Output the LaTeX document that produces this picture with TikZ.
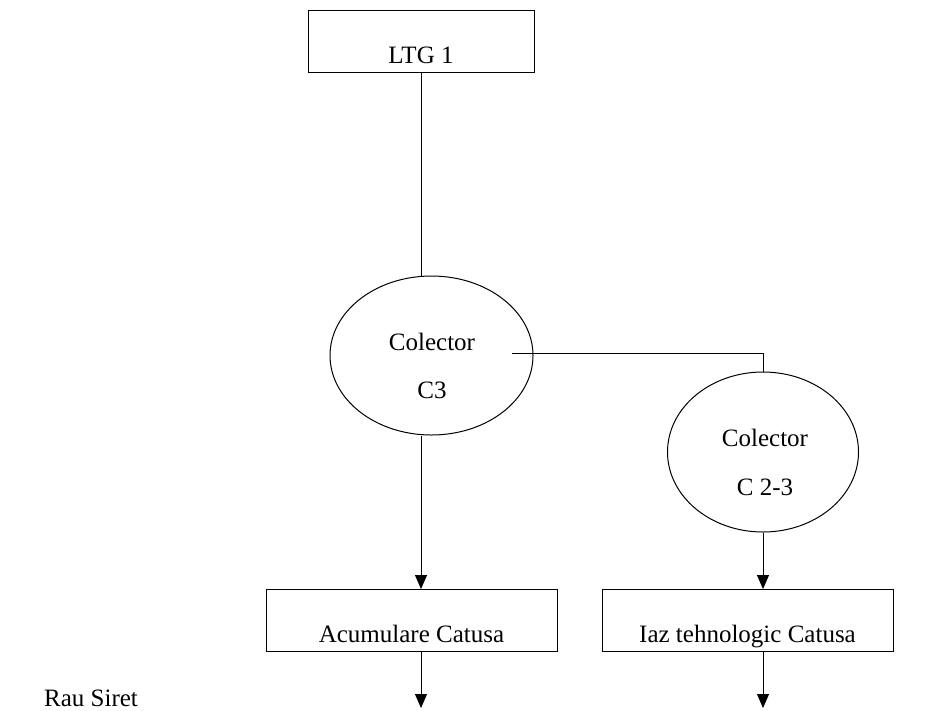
\documentclass[tikz,border=0pt]{standalone}
\usepackage{fontspec}
\setmainfont{Liberation Serif}
\usetikzlibrary{shapes.geometric,arrows.meta}
\begin{document}
\begin{tikzpicture}[x=1pt,y=-1pt,font=\fontsize{25}{30}\selectfont]
        \useasboundingbox (0,0) rectangle (933,710);
        \begin{scope}[every node/.style={rectangle,draw,line width=1pt,minimum height=62pt,inner sep=0pt,text height=44pt,text depth=0pt}]
          \node[minimum width=226pt] (ltg) at (421,41) {LTG 1};
          \node[minimum width=291pt] (acu) at (411.5,620.5) {Acumulare Catusa};
          \node[minimum width=291pt] (iaz) at (747.5,620.5) {Iaz tehnologic Catusa};
        \end{scope}
        \begin{scope}[every node/.style={ellipse,draw,line width=1pt,inner sep=0pt}]
          \node[minimum width=203pt,minimum height=159pt] (c3) at (431.5,355.5) {};
          \node[minimum width=191pt,minimum height=160pt] (c23) at (763,452) {};
        \end{scope}
        \node (c3a) at (432,342) {Colector};
        \node (c3b) at (432,390) {C3};
        \node (c23a) at (765,438) {Colector};
        \node (c23b) at (765,487) {C 2-3};
        \node (rau) at (91,698) {Rau Siret};
        \coordinate (j) at (512,353);
        \coordinate (out1) at (421,708);
        \coordinate (out2) at (763,708);
        \draw[line width=1pt] (j) -| (c23.north);
        \begin{scope}[every edge/.style={draw,line width=1pt}]
          \path (ltg.south) edge (ltg.south |- c3.north);
          \path (c3.south -| ltg.south) edge[-{Triangle[length=14pt,width=12pt]}] (ltg.south |- acu.north);
          \path (acu.south -| ltg.south) edge[-{Triangle[length=14pt,width=12pt]}] (out1);
          \path (c23.south) edge[-{Triangle[length=14pt,width=12pt]}] (c23.south |- iaz.north);
          \path (iaz.south -| c23.south) edge[-{Triangle[length=14pt,width=12pt]}] (out2);
        \end{scope}
      \end{tikzpicture}
\end{document}
